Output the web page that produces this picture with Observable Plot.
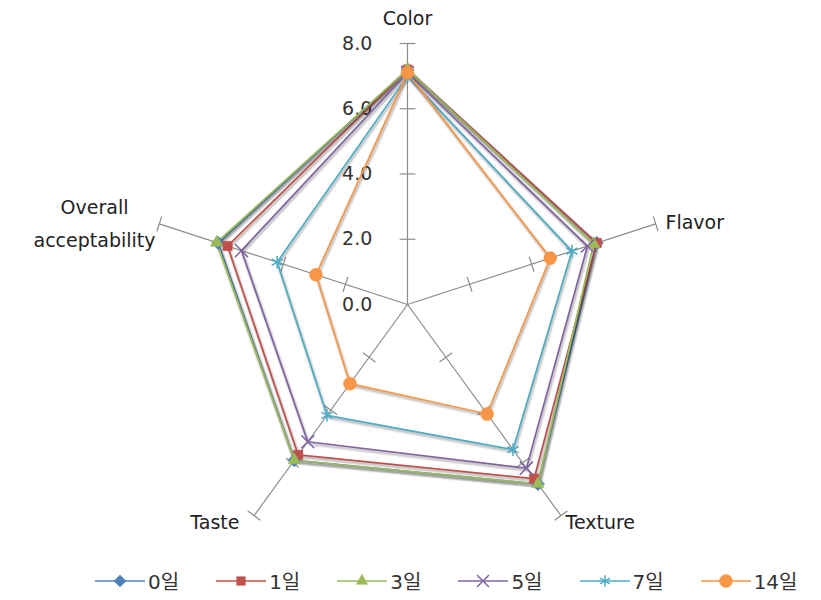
<!DOCTYPE html>
<html>
<head>
<meta charset="utf-8">
<script src="https://cdn.jsdelivr.net/npm/d3@7"></script>
<script src="https://cdn.jsdelivr.net/npm/@observablehq/plot@0.6"></script>
<style>
  body { margin: 0; background: #fff; font-family: "DejaVu Sans", sans-serif; }
  #wrap { position: relative; width: 821px; height: 600px; }
  #legend { position: absolute; left: 95px; top: 566px; display: flex; gap: 37px; align-items: center;
            font-family: "DejaVu Sans", "Noto Sans CJK KR", sans-serif; font-size: 20px; color: #333; }
  .item { display: flex; align-items: center; gap: 3px; }
  .shadow path { filter: drop-shadow(1.5px 2px 1px rgba(0,0,0,0.4)); }
</style>
</head>
<body>
<div id="wrap"><div id="chart"></div><div id="legend"></div></div>
<script>
// Sensory attributes, clockwise from the top
const attributes = ["Color", "Flavor", "Texture", "Taste", "Overall acceptability"];
// Storage days (series)
const series = ["0일", "1일", "3일", "5일", "7일", "14일"];
const colors = ["#4F81BD", "#C0504D", "#9BBB59", "#8064A2", "#4BACC6", "#F79646"];
const symbols = ["diamond2", "square2", "triangle2", "times", "asterisk", "circle"];
// Scores per series, in attribute order
const day0  = [7.2, 6.1, 6.8, 5.9, 6.1];
const day1  = [7.2, 6.1, 6.6, 5.7, 5.8];
const day3  = [7.2, 6.0, 6.8, 5.9, 6.15];
const day5  = [7.1, 5.8, 6.2, 5.2, 5.35];
const day7  = [7.0, 5.3, 5.5, 4.2, 4.2];
const day14 = [7.1, 4.6, 4.15, 3.0, 2.95];
const values = [day0, day1, day3, day5, day7, day14];
// Radial axis ticks
const ticks = [0, 2, 4, 6, 8];
const tickLabels = ["0.0", "2.0", "4.0", "6.0", "8.0"];
const rMax = 8;

const W = 821, H = 560, cx = 407, cy = 304, R = 261;
const unit = R / rMax;
const angle = i => Math.PI / 2 - i * 2 * Math.PI / attributes.length;
const pol = (i, r) => [r * Math.cos(angle(i)), r * Math.sin(angle(i))];

// Long-format table of points
const points = [];
series.forEach((s, k) => values[k].forEach((v, i) => {
  const [x, y] = pol(i, v);
  points.push({series: s, attr: attributes[i], value: v, x, y});
}));
const openSeries = ["5일", "7일"];

// Axis spokes and tick marks
const spokes = attributes.map((a, i) => { const [x, y] = pol(i, rMax); return {x1: 0, y1: 0, x2: x, y2: y}; });
const tickMarks = [];
attributes.forEach((a, i) => ticks.slice(1).forEach(t => {
  const [x, y] = pol(i, t);
  const th = angle(i) + Math.PI / 2, h = 0.24;
  tickMarks.push({x1: x - h * Math.cos(th), y1: y - h * Math.sin(th), x2: x + h * Math.cos(th), y2: y + h * Math.sin(th)});
}));
const tickText = ticks.map((t, j) => ({x: -1.08, y: t, label: tickLabels[j]}));

// Attribute label positions (pixel offsets from the centre, converted to data units)
const lab = (px, py, text) => ({x: (px - cx) / unit, y: (cy - py) / unit, text});
const labelsMiddle = [lab(407, 18, "Color"), lab(94, 207, "Overall"), lab(94, 240, "acceptability")];
const labelsStart = [lab(665, 222, "Flavor"), lab(565, 522, "Texture")];
const labelsEnd = [lab(239, 522, "Taste")];

const textStyle = {x: "x", y: "y", text: "text", fontSize: 19, fill: "#222"};

const chart = Plot.plot({
  width: W, height: H,
  margin: 0,
  x: {domain: [-cx / unit, (W - cx) / unit], axis: null},
  y: {domain: [-(H - cy) / unit, cy / unit], axis: null},
  color: {domain: series, range: colors},
  symbol: {domain: series, range: symbols},
  style: {fontFamily: "DejaVu Sans, sans-serif", background: "#fff"},
  marks: [
    Plot.link(spokes, {x1: "x1", y1: "y1", x2: "x2", y2: "y2", stroke: "#8c8c8c", strokeWidth: 1.2}),
    Plot.link(tickMarks, {x1: "x1", y1: "y1", x2: "x2", y2: "y2", stroke: "#8c8c8c", strokeWidth: 1.2}),
    Plot.text(tickText, {x: "x", y: "y", text: "label", textAnchor: "end", fontSize: 19, fill: "#333"}),
    Plot.line(points, {x: "x", y: "y", z: "series", stroke: "series", curve: "linear-closed", strokeWidth: 1.7, className: "shadow"}),
    ...series.map(s => Plot.dot(points.filter(d => d.series === s), {
      x: "x", y: "y", symbol: "series", stroke: "series",
      fill: openSeries.includes(s) ? "none" : "series",
      r: s === "14일" ? 6.5 : 6,
      strokeWidth: openSeries.includes(s) ? 1.5 : 0.5
    })),
    Plot.text(labelsMiddle, {...textStyle, textAnchor: "middle"}),
    Plot.text(labelsStart, {...textStyle, textAnchor: "start"}),
    Plot.text(labelsEnd, {...textStyle, textAnchor: "end"})
  ]
});
document.getElementById("chart").append(chart);

// Legend: line with marker, then series name
const legend = d3.select("#legend");
const symbolTypes = {diamond2: d3.symbolDiamond2, square2: d3.symbolSquare2, triangle2: d3.symbolTriangle2,
                     times: d3.symbolTimes, asterisk: d3.symbolAsterisk, circle: d3.symbolCircle};
series.forEach((s, k) => {
  const item = legend.append("div").attr("class", "item");
  const svg = item.append("svg").attr("width", 50).attr("height", 20);
  svg.append("line").attr("x1", 0).attr("x2", 50).attr("y1", 10).attr("y2", 10).attr("stroke", colors[k]).attr("stroke-width", 1.7);
  const open = openSeries.includes(s);
  const r = s === "14일" ? 6.5 : 5.5;
  svg.append("path").attr("transform", "translate(25,10)")
    .attr("d", d3.symbol(symbolTypes[symbols[k]], r * r * Math.PI)())
    .attr("fill", open ? "none" : colors[k]).attr("stroke", colors[k]).attr("stroke-width", open ? 1.5 : 0.5);
  item.append("span").text(s);
});
</script>
</body>
</html>
